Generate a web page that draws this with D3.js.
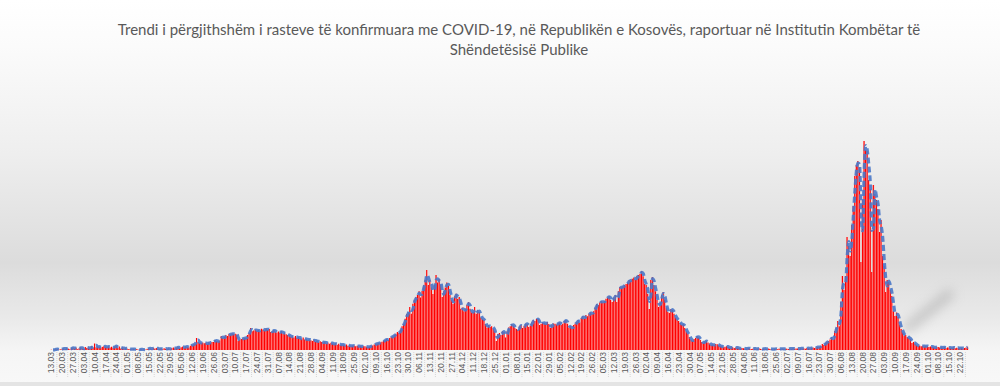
<!DOCTYPE html>
<html>
<head>
<meta charset="utf-8">
<script src="https://cdn.jsdelivr.net/npm/d3@7"></script>
<style>
  body { margin: 0; background: #fff; }
  svg { display: block; }
</style>
</head>
<body>
<script>
// Title (two lines as in the original)
const titleLines = [
    "Trendi i përgjithshëm i rasteve të konfirmuara me COVID-19, në Republikën e Kosovës, raportuar në Institutin Kombëtar të",
    "Shëndetësisë Publike"
];

// Weekly tick labels, first day 13.03.2020
const tickLabels = [
    "13.03","20.03","27.03","03.04","10.04","17.04","24.04","01.05","08.05","15.05","22.05","29.05","05.06",
    "12.06","19.06","26.06","03.07","10.07","17.07","24.07","31.07","07.08","14.08","21.08","28.08","04.09",
    "11.09","18.09","25.09","02.10","09.10","16.10","23.10","30.10","06.11","13.11","20.11","27.11","04.12",
    "11.12","18.12","25.12","01.01","08.01","15.01","22.01","29.01","05.02","12.02","19.02","26.02","05.03",
    "12.03","19.03","26.03","02.04","09.04","16.04","23.04","30.04","07.05","14.05","21.05","28.05","04.06",
    "11.06","18.06","25.06","02.07","09.07","16.07","23.07","30.07","06.08","13.08","20.08","27.08","03.09",
    "10.09","17.09","24.09","01.10","08.10","15.10","22.10"
];

// Daily confirmed cases, 13.03.2020 - 31.12.2020 (one row per week)
const cases2020 = [
    2,0,3,7,6,4,5,
    9,13,8,15,11,6,16,
    20,10,18,6,14,22,12,
    8,24,16,20,11,31,18,
    52,22,28,26,19,25,30,
    27,23,30,20,26,18,29,
    33,16,28,12,21,10,14,
    11,6,9,4,10,3,7,
    5,2,8,1,6,3,9,
    12,14,8,18,11,16,9,
    7,12,5,14,10,8,13,
    6,15,20,11,18,24,16,
    22,27,18,30,25,21,34,
    40,46,52,96,64,58,56,
    60,54,58,48,62,56,64,
    64,80,72,70,76,112,96,
    104,120,112,128,124,132,128,
    130,124,72,80,88,92,96,
    96,120,136,176,150,156,164,
    152,160,148,170,164,156,172,
    160,168,144,150,160,146,140,
    148,138,152,130,140,126,120,
    118,104,110,100,112,96,104,
    94,88,100,84,90,80,86,
    78,72,84,66,76,62,70,
    64,58,66,52,60,50,58,
    52,46,54,42,50,40,44,
    42,36,44,34,38,30,36,
    36,30,34,28,32,26,30,
    30,26,24,28,32,36,44,
    48,52,56,60,66,72,80,
    88,80,96,104,110,120,130,
    144,136,160,190,210,250,288,
    300,344,290,370,400,424,440,
    470,420,472,520,560,640,520,
    560,500,448,520,600,540,568,
    520,424,470,500,540,512,440,
    400,368,430,450,410,424,330,
    340,310,328,360,384,330,300,
    304,344,290,320,304,260,250,
    240,208,180,200,184,190,170,
    150,72,128,136,120,152,144
];

// Daily confirmed cases, 01.01.2021 - 27.10.2021 (one row per week)
const cases2021 = [
    100,150,180,190,208,196,176,
    168,160,190,200,176,192,210,
    208,184,196,220,240,232,248,
    248,200,210,220,216,208,224,
    208,176,200,212,210,204,216,
    220,200,210,232,240,210,180,
    190,168,200,210,224,240,220,
    256,272,250,280,270,290,300,
    288,310,340,368,360,380,392,
    380,392,410,420,432,400,384,
    420,440,384,470,504,500,510,
    520,528,540,560,552,570,580,
    560,592,600,610,632,590,528,
    520,448,328,560,584,520,470,
    400,344,380,440,464,400,340,
    304,296,328,320,290,260,244,
    232,216,200,208,176,150,128,
    104,80,72,88,96,112,100,
    80,64,56,70,72,60,52,
    40,44,38,48,46,36,30,
    28,22,26,30,24,18,20,
    22,16,20,18,14,12,16,
    14,10,12,16,12,8,10,
    12,8,10,14,9,6,11,
    10,7,12,9,8,5,10,
    9,6,11,8,12,7,10,
    11,8,13,9,14,10,12,
    12,9,15,11,14,10,16,
    15,12,18,20,16,22,24,
    24,32,48,40,56,64,72,
    84,104,80,152,176,232,190,
    384,592,480,592,904,832,752,
    1000,1152,1392,1480,1512,1460,704,
    1200,1672,1600,1592,1360,1288,624,
    1320,1248,1200,1128,944,1040,752,
    672,464,560,544,480,432,312,
    272,300,264,200,168,140,112,
    120,104,96,88,56,64,48,
    40,32,36,30,34,28,32,
    30,24,28,26,22,20,26,
    24,20,22,18,24,16,20,
    20,16,18,22,14,18,16,
    14,18,12,16,20,26
];

const cases = cases2020.concat(cases2021);
const days = d3.range(cases.length);

// moving average trendline (period 2), like the spreadsheet trendline
const trend = cases.map((v, i) => i === 0 ? null : (cases[i - 1] + v) / 2);

const width = 1000, height = 386;
const baseline = 350;

const svg = d3.select("body").append("svg")
    .attr("width", width)
    .attr("height", height);

const defs = svg.append("defs");

// background gradient
const bg = defs.append("linearGradient")
    .attr("id", "bg")
    .attr("x1", 0).attr("y1", 0).attr("x2", 0).attr("y2", 1);
[[0, "#ffffff"], [0.12, "#fbfbfb"], [0.4, "#eeeeee"], [0.68, "#dcdcdc"],
 [0.82, "#e9e9e9"], [0.91, "#f5f5f5"], [1, "#f8f8f8"]]
    .forEach(s => bg.append("stop").attr("offset", s[0]).attr("stop-color", s[1]));

// bar fill
const barGrad = defs.append("linearGradient")
    .attr("id", "barFill")
    .attr("x1", 0).attr("y1", 0).attr("x2", 1).attr("y2", 0);
[[0, "#ff0000"], [0.45, "#ff0000"], [1, "#ffadad"]]
    .forEach(s => barGrad.append("stop").attr("offset", s[0]).attr("stop-color", s[1]));

defs.append("filter").attr("id", "blur")
    .attr("x", "-50%").attr("y", "-50%").attr("width", "200%").attr("height", "200%")
    .append("feGaussianBlur").attr("stdDeviation", 6);

svg.append("rect")
    .attr("width", width).attr("height", height)
    .attr("fill", "url(#bg)");

// bottom frame line
svg.append("rect")
    .attr("x", 0).attr("y", 382)
    .attr("width", width).attr("height", 4)
    .attr("fill", "#e4e4e4");

// title
svg.append("g")
    .selectAll("text")
    .data(titleLines)
    .enter()
    .append("text")
    .attr("x", 519)
    .attr("y", (d, i) => 35 + i * 20)
    .attr("text-anchor", "middle")
    .attr("font-family", "Lato, 'Open Sans', sans-serif")
    .attr("font-size", 15)
    .attr("fill", "#595959")
    .text(d => d);

const x = d3.scaleBand()
    .domain(days)
    .range([50.7, 968.5])
    .padding(0);

const y = d3.scaleLinear()
    .domain([0, 1680])
    .range([baseline, 140]);

// soft shadow behind the right hand peak
svg.append("line")
    .attr("x1", 905).attr("y1", 330)
    .attr("x2", 952).attr("y2", 292)
    .attr("stroke", "#9a9a9a")
    .attr("stroke-width", 9)
    .attr("opacity", 0.5)
    .attr("filter", "url(#blur)");

// bars
svg.append("g")
    .selectAll("rect")
    .data(days)
    .enter()
    .append("rect")
    .attr("x", d => x(d))
    .attr("y", d => y(cases[d]))
    .attr("width", x.bandwidth())
    .attr("height", d => baseline - y(cases[d]))
    .attr("fill", "url(#barFill)");

// dashed trend line
const line = d3.line()
    .defined(d => trend[d] !== null)
    .x(d => x(d) + x.bandwidth() / 2)
    .y(d => y(trend[d]))
    .curve(d3.curveMonotoneX);

svg.append("path")
    .datum(days)
    .attr("d", line)
    .attr("fill", "none")
    .attr("stroke", "#4a78c8")
    .attr("stroke-width", 3.2)
    .attr("stroke-dasharray", "6,3")
    .attr("opacity", 0.9);

// x axis labels, one every 7 days
const tickDays = tickLabels.map((t, i) => i * 7);

const ticks = svg.append("g");

ticks.selectAll("line")
    .data(tickDays)
    .enter()
    .append("line")
    .attr("x1", d => x(d) + x.bandwidth() / 2 + 5.4)
    .attr("x2", d => x(d) + x.bandwidth() / 2 + 5.4)
    .attr("y1", baseline + 2)
    .attr("y2", baseline + 28)
    .attr("stroke", "#c8c8c8")
    .attr("stroke-width", 0.7)
    .attr("stroke-dasharray", "1,1");

ticks.selectAll("text")
    .data(tickDays)
    .enter()
    .append("text")
    .attr("transform", d => `translate(${x(d) + x.bandwidth() / 2},${baseline + 2}) rotate(-90)`)
    .attr("text-anchor", "end")
    .attr("dy", "0.35em")
    .attr("font-family", "'Liberation Sans', Arial, sans-serif")
    .attr("font-size", 8.5)
    .attr("fill", "#595959")
    .text((d, i) => tickLabels[i]);
</script>
</body>
</html>
